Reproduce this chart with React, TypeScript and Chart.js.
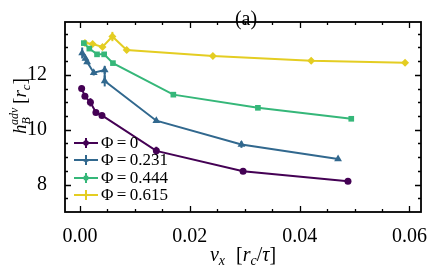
import React, { useEffect, useRef } from "react";
import { Chart, registerables } from "chart.js";

Chart.register(...registerables);

const xs0 = [0.0003, 0.0009, 0.0019, 0.0029, 0.004, 0.0139, 0.0297, 0.0488];
const ys0 = [11.5, 11.22, 11.0, 10.63, 10.52, 9.23, 8.49, 8.12];
const err0 = [0.06, 0.06, 0.15, 0.06, 0.05, 0.15, 0.05, 0.05];

const xs1 = [0.0004, 0.001, 0.0013, 0.0025, 0.0045, 0.0045, 0.0139, 0.0294, 0.047];
const ys1 = [12.8, 12.6, 12.47, 12.08, 12.18, 11.78, 10.33, 9.46, 8.93];
const err1 = [0.2, 0.08, 0.08, 0.1, 0.15, 0.2, 0.07, 0.12, 0.04];

const xs2 = [0.0007, 0.0017, 0.0031, 0.0044, 0.006, 0.017, 0.0324, 0.0494];
const ys2 = [13.16, 12.96, 12.75, 12.75, 12.43, 11.28, 10.8, 10.4];
const err2 = [0.06, 0.05, 0.05, 0.05, 0.05, 0.05, 0.05, 0.05];

const xs3 = [0.0009, 0.0023, 0.0041, 0.0059, 0.0085, 0.0242, 0.0421, 0.0592];
const ys3 = [13.16, 13.13, 13.02, 13.4, 12.91, 12.69, 12.52, 12.44];
const err3 = [0.1, 0.07, 0.07, 0.17, 0.1, 0.08, 0.1, 0.1];

const seriesLabels = ["Φ\u2009=\u20090", "Φ\u2009=\u20090.231", "Φ\u2009=\u20090.444", "Φ\u2009=\u20090.615"];
const seriesColors = ["#440154", "#31688e", "#35b779", "#e4cd22"];
const pointStyles = ["circle", "triangle", "rect", "rectRot"];
const pointRadii = [3.5, 4.5, 4, 4];

const xMajor = [0, 0.02, 0.04, 0.06];
const xMinor = [0.005, 0.01, 0.015, 0.025, 0.03, 0.035, 0.045, 0.05, 0.055];
const yMajor = [8, 10, 12];
const yMinor = [7.5, 8.5, 9, 9.5, 10.5, 11, 11.5, 12.5, 13, 13.5];

const X_MIN = -0.00273;
const X_MAX = 0.0621;
const Y_MIN = 7.0;
const Y_MAX = 13.93;

const SERIF = "'Liberation Serif', 'DejaVu Serif', serif";

type Run = { t: string; italic?: boolean; size: number; dy?: number; dx?: number };

function drawRuns(ctx: CanvasRenderingContext2D, runs: Run[], cx: number, cy: number, rot: number) {
  ctx.save();
  ctx.translate(cx, cy);
  ctx.rotate(rot);
  let total = 0;
  const widths: number[] = [];
  for (const r of runs) {
    ctx.font = `${r.italic ? "italic " : ""}${r.size}px ${SERIF}`;
    const w = ctx.measureText(r.t).width + (r.dx || 0);
    widths.push(w);
    total += w;
  }
  let x = -total / 2;
  ctx.fillStyle = "#000";
  ctx.textBaseline = "alphabetic";
  ctx.textAlign = "left";
  runs.forEach((r, i) => {
    ctx.font = `${r.italic ? "italic " : ""}${r.size}px ${SERIF}`;
    ctx.fillText(r.t, x, 7 + (r.dy || 0));
    x += widths[i];
  });
  ctx.restore();
}

const xsAll = [xs0, xs1, xs2, xs3];
const ysAll = [ys0, ys1, ys2, ys3];
const errAll = [err0, err1, err2, err3];

function drawMarker(ctx: CanvasRenderingContext2D, style: string, x: number, y: number, r: number) {
  ctx.beginPath();
  if (style === "circle") {
    ctx.arc(x, y, r, 0, Math.PI * 2);
  } else if (style === "triangle") {
    ctx.moveTo(x, y - r);
    ctx.lineTo(x + r * 0.9, y + r * 0.6);
    ctx.lineTo(x - r * 0.9, y + r * 0.6);
    ctx.closePath();
  } else if (style === "rect") {
    ctx.rect(x - r * 0.8, y - r * 0.8, r * 1.6, r * 1.6);
  } else {
    ctx.moveTo(x, y - r);
    ctx.lineTo(x + r * 0.7, y);
    ctx.lineTo(x, y + r);
    ctx.lineTo(x - r * 0.7, y);
    ctx.closePath();
  }
  ctx.fill();
}

export default function App() {
  const ref = useRef<HTMLCanvasElement>(null);
  useEffect(() => {
    document.body.style.margin = "0";
    const canvas = ref.current!;
    const datasets = xsAll.map((xs, i) => ({
      label: seriesLabels[i],
      data: xs.map((x, j) => ({ x, y: ysAll[i][j] })),
      showLine: true,
      borderColor: seriesColors[i],
      backgroundColor: seriesColors[i],
      borderWidth: 2,
      pointStyle: pointStyles[i] as any,
      pointRadius: pointRadii[i],
      pointBorderWidth: 0,
      pointBackgroundColor: seriesColors[i],
      tension: 0,
    }));

    const errPlugin = {
      id: "errbars",
      beforeDatasetsDraw(chart: any) {
        const ctx = chart.ctx;
        const xs = chart.scales.x;
        const ys = chart.scales.y;
        ctx.save();
        xsAll.forEach((arr, i) => {
          ctx.strokeStyle = seriesColors[i];
          ctx.lineWidth = 2;
          arr.forEach((x, j) => {
            const px = xs.getPixelForValue(x);
            const y0 = ys.getPixelForValue(ysAll[i][j] - errAll[i][j]);
            const y1 = ys.getPixelForValue(ysAll[i][j] + errAll[i][j]);
            ctx.beginPath();
            ctx.moveTo(px, y0);
            ctx.lineTo(px, y1);
            ctx.stroke();
          });
        });
        ctx.restore();
      },
    };

    const decoPlugin = {
      id: "deco",
      afterDraw(chart: any) {
        const ctx = chart.ctx as CanvasRenderingContext2D;
        const { left, right, top, bottom } = chart.chartArea;
        const xs = chart.scales.x;
        const ys = chart.scales.y;
        ctx.save();
        ctx.strokeStyle = "#000";
        ctx.lineWidth = 1.3;
        const tick = (vals: number[], len: number) => {
          vals.forEach((v) => {
            const px = Math.round(xs.getPixelForValue(v)) + 0.5;
            ctx.beginPath();
            ctx.moveTo(px, bottom);
            ctx.lineTo(px, bottom - len);
            ctx.moveTo(px, top);
            ctx.lineTo(px, top + len);
            ctx.stroke();
          });
        };
        const ytick = (vals: number[], len: number) => {
          vals.forEach((v) => {
            const py = Math.round(ys.getPixelForValue(v)) + 0.5;
            ctx.beginPath();
            ctx.moveTo(left, py);
            ctx.lineTo(left + len, py);
            ctx.moveTo(right, py);
            ctx.lineTo(right - len, py);
            ctx.stroke();
          });
        };
        tick(xMajor, 6);
        tick(xMinor, 3);
        ytick(yMajor, 6);
        ytick(yMinor, 3);
        ctx.lineWidth = 1.8;
        ctx.strokeRect(left, top, right - left, bottom - top);

        // legend
        const rowY = [143, 160, 178, 195];
        seriesLabels.forEach((lab, i) => {
          const y = rowY[i];
          ctx.strokeStyle = seriesColors[i];
          ctx.lineWidth = 2;
          ctx.beginPath();
          ctx.moveTo(74, y);
          ctx.lineTo(98, y);
          ctx.moveTo(86, y - 5);
          ctx.lineTo(86, y + 5);
          ctx.stroke();
          ctx.fillStyle = seriesColors[i];
          drawMarker(ctx, pointStyles[i], 86, y, 2.8);
          ctx.fillStyle = "#000";
          ctx.font = `17px ${SERIF}`;
          ctx.textBaseline = "middle";
          ctx.textAlign = "left";
          ctx.fillText(lab, 101, y + 1);
        });

        // panel label
        ctx.fillStyle = "#000";
        ctx.font = `20px ${SERIF}`;
        ctx.textAlign = "center";
        ctx.textBaseline = "middle";
        ctx.fillText("(a)", 246, 20);

        // axis titles
        drawRuns(
          ctx,
          [
            { t: "v", italic: true, size: 20 },
            { t: "x", italic: true, size: 14, dy: 4, dx: 1 },
            { t: "\u2002[", size: 20 },
            { t: "r", italic: true, size: 20 },
            { t: "c", italic: true, size: 14, dy: 4 },
            { t: "/", size: 20 },
            { t: "τ", italic: true, size: 20 },
            { t: "]", size: 20 },
          ],
          243,
          254,
          0
        );
        drawRuns(
          ctx,
          [
            { t: "h", italic: true, size: 19 },
            { t: "B", italic: true, size: 12, dy: 4, dx: -8 },
            { t: "adv", italic: true, size: 12, dy: -8 },
            { t: "\u2009[", size: 19 },
            { t: "r", italic: true, size: 19 },
            { t: "c", italic: true, size: 13, dy: 4 },
            { t: "]", size: 19 },
          ],
          19,
          106,
          -Math.PI / 2
        );
        ctx.restore();
      },
    };

    const chart = new Chart(canvas, {
      type: "scatter",
      data: { datasets: datasets as any },
      options: {
        responsive: false,
        animation: false,
        layout: { padding: { top: 5, right: 15, left: 0, bottom: 0 } },
        plugins: { legend: { display: false }, tooltip: { enabled: false } },
        scales: {
          x: {
            type: "linear",
            min: X_MIN,
            max: X_MAX,
            grid: { display: false },
            border: { display: false },
            afterBuildTicks: (s: any) => {
              s.ticks = xMajor.map((v) => ({ value: v }));
            },
            afterFit: (s: any) => {
              s.height = 60;
            },
            ticks: {
              color: "#000",
              padding: 5,
              maxRotation: 0,
              font: { family: SERIF, size: 20 },
              callback: (v: any) => Number(v).toFixed(2),
            },
          },
          y: {
            type: "linear",
            min: Y_MIN,
            max: Y_MAX,
            grid: { display: false },
            border: { display: false },
            afterBuildTicks: (s: any) => {
              s.ticks = yMajor.map((v) => ({ value: v }));
            },
            afterFit: (s: any) => {
              s.width = 65;
            },
            ticks: {
              color: "#000",
              padding: 10,
              font: { family: SERIF, size: 20 },
              callback: (v: any) => String(v),
            },
          },
        },
      },
      plugins: [errPlugin, decoPlugin],
    });
    return () => chart.destroy();
  }, []);
  return (
    <div style={{ width: 436, height: 272 }}>
      <canvas ref={ref} width={436} height={272} style={{ display: "block" }} />
    </div>
  );
}
